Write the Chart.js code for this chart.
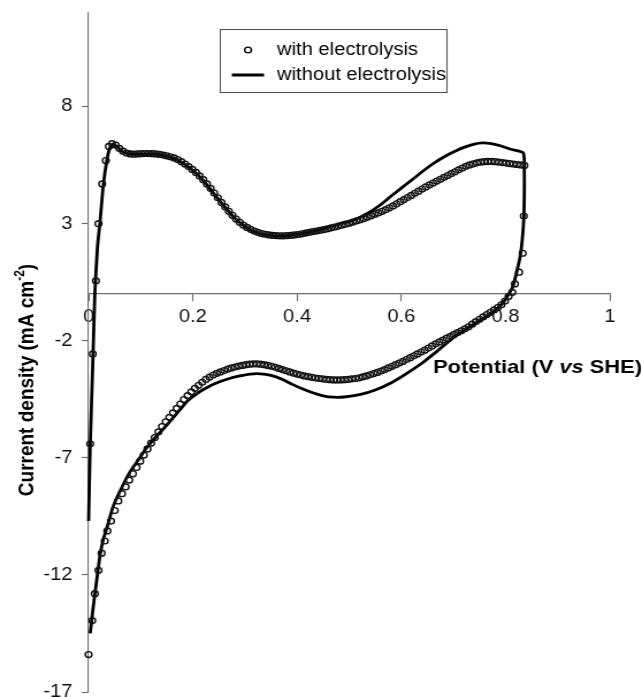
<!DOCTYPE html>
<html>
<head>
<meta charset="utf-8">
<title>Cyclic voltammogram</title>
<script src="https://cdn.jsdelivr.net/npm/chart.js@4.4.1/dist/chart.umd.min.js"></script>
<style>
  html, body { margin: 0; padding: 0; background: #fff; overflow: hidden; }
  /* the figure is laid out on a narrower canvas and widened to the page */
  #cv { display: block; transform: scaleX(1.1505); transform-origin: 0 0; }
</style>
</head>
<body>
<canvas id="cv" width="558" height="698"></canvas>
<script>
// axis ticks
const xTicks = [0, 0.2, 0.4, 0.6, 0.8, 1];
const yTicks = [-17, -12, -7, -2, 3, 8];

// with electrolysis: anodic sweep (V vs SHE, mA cm-2)
const withAnodicV = [
  0.003, 0.008, 0.014, 0.019, 0.026, 0.033, 0.039,
  0.045, 0.052, 0.059, 0.066, 0.073, 0.080, 0.087, 0.094, 0.101, 0.108,
  0.115, 0.122, 0.129, 0.136, 0.143, 0.150, 0.157, 0.164, 0.171, 0.178,
  0.185, 0.192, 0.199, 0.206, 0.213, 0.220, 0.227, 0.234, 0.241, 0.248,
  0.255, 0.262, 0.269, 0.276, 0.283, 0.290, 0.297, 0.304, 0.311, 0.318,
  0.325, 0.332, 0.339, 0.346, 0.353, 0.360, 0.367, 0.374, 0.381, 0.388,
  0.395, 0.402, 0.409, 0.416, 0.423, 0.430, 0.437, 0.444, 0.451, 0.458,
  0.465, 0.472, 0.479, 0.486, 0.493, 0.500, 0.507, 0.514, 0.521, 0.528,
  0.535, 0.542, 0.549, 0.556, 0.563, 0.570, 0.577, 0.584, 0.591, 0.598,
  0.605, 0.612, 0.619, 0.626, 0.633, 0.640, 0.647, 0.654, 0.661, 0.668,
  0.675, 0.682, 0.689, 0.696, 0.703, 0.710, 0.717, 0.724, 0.731, 0.738,
  0.745, 0.752, 0.759, 0.766, 0.773, 0.780, 0.787, 0.794, 0.801, 0.808,
  0.815, 0.822, 0.829, 0.836
];
const withAnodicJ = [
  -6.40, -2.56, 0.56, 3.00, 4.70, 5.70, 6.30,
  6.42, 6.36, 6.22, 6.10, 6.02, 5.98, 5.97, 5.98, 5.99, 6.00,
  6.00, 5.99, 5.98, 5.96, 5.93, 5.90, 5.86, 5.81, 5.74, 5.65,
  5.55, 5.44, 5.32, 5.19, 5.04, 4.88, 4.70, 4.51, 4.31, 4.11,
  3.91, 3.72, 3.53, 3.36, 3.20, 3.06, 2.94, 2.84, 2.76, 2.69,
  2.63, 2.58, 2.55, 2.52, 2.50, 2.49, 2.48, 2.48, 2.49, 2.50,
  2.52, 2.54, 2.57, 2.60, 2.63, 2.66, 2.69, 2.72, 2.75, 2.78,
  2.82, 2.86, 2.90, 2.94, 2.98, 3.02, 3.07, 3.12, 3.17, 3.22,
  3.28, 3.34, 3.40, 3.46, 3.53, 3.60, 3.68, 3.76, 3.85, 3.94,
  4.03, 4.12, 4.21, 4.30, 4.39, 4.48, 4.57, 4.66, 4.74, 4.82,
  4.90, 4.98, 5.06, 5.14, 5.22, 5.30, 5.38, 5.45, 5.51, 5.56,
  5.60, 5.63, 5.65, 5.66, 5.66, 5.65, 5.63, 5.61, 5.59, 5.57,
  5.55, 5.53, 5.51, 5.49
];

// with electrolysis: cathodic sweep
const withCathodicV = [
  0.835, 0.833, 0.826, 0.818, 0.813,
  0.806, 0.799, 0.792, 0.785, 0.778, 0.771, 0.764, 0.757, 0.750, 0.743,
  0.736, 0.729, 0.722, 0.715, 0.708, 0.701, 0.694, 0.687, 0.680, 0.673,
  0.666, 0.659, 0.652, 0.645, 0.638, 0.631, 0.624, 0.617, 0.610, 0.603,
  0.596, 0.589, 0.582, 0.575, 0.568, 0.561, 0.554, 0.547, 0.540, 0.533,
  0.526, 0.519, 0.512, 0.505, 0.498, 0.491, 0.484, 0.477, 0.470, 0.463,
  0.456, 0.449, 0.442, 0.435, 0.428, 0.421, 0.414, 0.407, 0.400, 0.393,
  0.386, 0.379, 0.372, 0.365, 0.358, 0.351, 0.344, 0.337, 0.330, 0.323,
  0.316, 0.309, 0.302, 0.295, 0.288, 0.281, 0.274, 0.267, 0.260, 0.253,
  0.246, 0.239, 0.232, 0.225, 0.218, 0.211, 0.204, 0.197, 0.190, 0.183,
  0.176, 0.169, 0.162, 0.155, 0.148, 0.141, 0.134, 0.127, 0.120, 0.113,
  0.106, 0.099, 0.092, 0.085, 0.078, 0.071, 0.064, 0.057, 0.050, 0.043,
  0.036, 0.031, 0.025, 0.019, 0.012, 0.007, 0.000
];
const withCathodicJ = [
  3.33, 1.74, 0.93, 0.43, 0.07,
  -0.10, -0.30, -0.46, -0.58, -0.68, -0.78, -0.88, -0.98, -1.08, -1.18,
  -1.29, -1.40, -1.49, -1.57, -1.65, -1.73, -1.81, -1.89, -1.97, -2.05,
  -2.13, -2.22, -2.31, -2.40, -2.48, -2.56, -2.64, -2.72, -2.80, -2.88,
  -2.95, -3.02, -3.09, -3.16, -3.23, -3.29, -3.35, -3.40, -3.45, -3.50,
  -3.54, -3.58, -3.61, -3.63, -3.65, -3.66, -3.67, -3.67, -3.67, -3.66,
  -3.65, -3.63, -3.61, -3.59, -3.56, -3.53, -3.50, -3.46, -3.42, -3.38,
  -3.33, -3.28, -3.23, -3.18, -3.13, -3.09, -3.05, -3.02, -3.00, -2.99,
  -2.99, -3.00, -3.02, -3.05, -3.08, -3.12, -3.16, -3.21, -3.27, -3.33,
  -3.39, -3.46, -3.55, -3.65, -3.77, -3.90, -4.03, -4.18, -4.34, -4.51,
  -4.70, -4.89, -5.08, -5.27, -5.46, -5.66, -5.89, -6.13, -6.37, -6.62,
  -6.88, -7.14, -7.41, -7.68, -7.95, -8.24, -8.53, -8.84, -9.25, -9.70,
  -10.12, -10.55, -11.07, -11.80, -12.80, -13.95, -15.40
];

// without electrolysis: one full cycle, drawn as a line
const withoutV = [
  0.000, 0.003, 0.008, 0.012, 0.017, 0.022, 0.028, 0.035, 0.041, 0.047,
  0.055, 0.065, 0.080, 0.100, 0.120, 0.140, 0.160, 0.180, 0.200, 0.220,
  0.240, 0.260, 0.280, 0.300, 0.320, 0.340, 0.360, 0.380, 0.400, 0.420,
  0.440, 0.460, 0.480, 0.500, 0.520, 0.540, 0.560, 0.580, 0.600, 0.620,
  0.640, 0.660, 0.680, 0.700, 0.720, 0.740, 0.755, 0.770, 0.790, 0.810,
  0.834, 0.836, 0.836, 0.835, 0.832, 0.828, 0.821, 0.814, 0.805, 0.795,
  0.780, 0.760, 0.730, 0.700, 0.670, 0.640, 0.610, 0.580, 0.550, 0.520,
  0.490, 0.470, 0.450, 0.430, 0.410, 0.390, 0.370, 0.350, 0.330, 0.310,
  0.290, 0.270, 0.250, 0.230, 0.210, 0.190, 0.175, 0.150, 0.130, 0.112,
  0.095, 0.080, 0.065, 0.047, 0.035, 0.028, 0.022, 0.016, 0.009, 0.003
];
const withoutJ = [
  -9.70, -6.50, -3.00, 0.00, 2.00, 3.10, 4.60, 5.70, 6.25, 6.40,
  6.28, 6.08, 5.97, 5.97, 5.98, 5.93, 5.82, 5.60, 5.28, 4.85,
  4.30, 3.75, 3.25, 2.88, 2.64, 2.52, 2.47, 2.48, 2.54, 2.62,
  2.72, 2.84, 2.97, 3.10, 3.27, 3.50, 3.81, 4.17, 4.52, 4.87,
  5.22, 5.55, 5.83, 6.06, 6.26, 6.40, 6.45, 6.43, 6.33, 6.18,
  6.03, 5.20, 4.20, 3.20, 2.30, 1.60, 0.90, 0.31, -0.05, -0.38,
  -0.70, -1.00, -1.42, -1.87, -2.42, -2.95, -3.40, -3.80, -4.10, -4.30,
  -4.40, -4.41, -4.35, -4.22, -4.05, -3.85, -3.63, -3.48, -3.41, -3.42,
  -3.50, -3.61, -3.76, -3.96, -4.22, -4.56, -4.95, -5.60, -6.08, -6.55,
  -7.10, -7.58, -8.20, -9.08, -10.00, -10.50, -11.15, -12.15, -13.35, -14.50
];

const FONT = '"Liberation Sans", Arial, Helvetica, sans-serif';
const AXIS_GREY = '#6e6e6e';

function toPoints(vs, js) {
  return vs.map((v, i) => ({ x: v, y: js[i] }));
}

const withPoints = toPoints(withAnodicV, withAnodicJ).concat(toPoints(withCathodicV, withCathodicJ));
const withoutPoints = toPoints(withoutV, withoutJ);

// legend box and the two axis titles
const annotations = {
  id: 'annotations',
  afterDraw(chart) {
    const ctx = chart.ctx;
    ctx.save();

    // legend
    ctx.strokeStyle = '#555';
    ctx.lineWidth = 1.1;
    ctx.strokeRect(191.5, 29.5, 197, 63);
    ctx.strokeStyle = '#000';
    ctx.lineWidth = 1.4;
    ctx.beginPath();
    ctx.arc(215.6, 50, 2.9, 0, Math.PI * 2);
    ctx.stroke();
    ctx.lineWidth = 3;
    ctx.beginPath();
    ctx.moveTo(201.5, 75);
    ctx.lineTo(229.5, 75);
    ctx.stroke();
    ctx.fillStyle = '#000';
    ctx.font = '17.5px ' + FONT;
    ctx.textAlign = 'left';
    ctx.textBaseline = 'alphabetic';
    ctx.fillText('with electrolysis', 240.8, 55);
    ctx.fillText('without electrolysis', 240.8, 80);

    // x title, with italic "vs"
    const bold = 'bold 19px ' + FONT;
    const boldItalic = 'italic bold 19px ' + FONT;
    const xParts = [['Potential (V ', bold], ['vs', boldItalic], [' SHE)', bold]];
    let x = 376.4;
    xParts.forEach(([s, f]) => {
      ctx.font = f;
      ctx.fillText(s, x, 373);
      x += ctx.measureText(s).width;
    });

    // y title, rotated, with superscript
    const supFont = 'bold 12px ' + FONT;
    const yParts = [['Current density (mA cm', bold, 0], ['-2', supFont, -8], [')', bold, 0]];
    let total = 0;
    yParts.forEach(([s, f]) => { ctx.font = f; total += ctx.measureText(s).width; });
    ctx.translate(28.7, 380);
    ctx.rotate(-Math.PI / 2);
    let t = -total / 2;
    yParts.forEach(([s, f, dy]) => {
      ctx.font = f;
      ctx.fillText(s, t, dy);
      t += ctx.measureText(s).width;
    });

    ctx.restore();
  }
};

new Chart(document.getElementById('cv'), {
  type: 'scatter',
  data: {
    datasets: [
      {
        label: 'with electrolysis',
        data: withPoints,
        showLine: false,
        pointStyle: 'circle',
        pointRadius: 2.9,
        pointBorderWidth: 1.4,
        pointBorderColor: '#111',
        pointBackgroundColor: 'rgba(0,0,0,0)',
        clip: false
      },
      {
        label: 'without electrolysis',
        data: withoutPoints,
        showLine: true,
        borderColor: '#000',
        borderWidth: 2.8,
        tension: 0.2,
        pointRadius: 0,
        clip: false
      }
    ]
  },
  options: {
    responsive: false,
    animation: false,
    events: [],
    layout: { padding: { top: 13, right: 28, bottom: 6, left: 0 } },
    plugins: { legend: { display: false }, tooltip: { enabled: false } },
    scales: {
      x: {
        type: 'linear',
        min: 0,
        max: 1,
        position: { y: 0 },
        afterBuildTicks: s => { s.ticks = xTicks.map(v => ({ value: v })); },
        border: { color: AXIS_GREY, width: 1.2 },
        grid: { drawOnChartArea: false, tickLength: 7, tickColor: AXIS_GREY, tickWidth: 1.2 },
        ticks: {
          color: '#111',
          padding: 6,
          font: { family: FONT, size: 17.5 },
          maxRotation: 0,
          callback: v => String(v)
        }
      },
      y: {
        type: 'linear',
        min: -17,
        max: 12,
        position: 'left',
        afterBuildTicks: s => { s.ticks = yTicks.map(v => ({ value: v })); },
        afterFit: s => { s.width = 77; s.paddingTop = 0; s.paddingBottom = 0; },
        border: { color: AXIS_GREY, width: 1.1 },
        grid: { drawOnChartArea: false, tickLength: 6, tickColor: AXIS_GREY, tickWidth: 1.2 },
        ticks: {
          color: '#111',
          padding: 8,
          font: { family: FONT, size: 17.5 },
          callback: v => String(v)
        }
      }
    }
  },
  plugins: [annotations]
});
</script>
</body>
</html>
